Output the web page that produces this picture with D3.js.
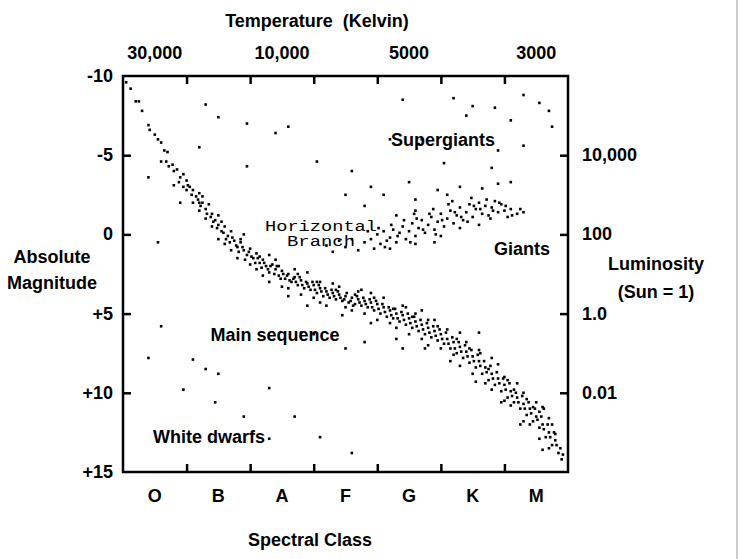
<!DOCTYPE html>
<html><head><meta charset="utf-8">
<script src="https://cdn.jsdelivr.net/npm/d3@7"></script>
<style>body{margin:0;background:#fff}text{font-family:"Liberation Sans",Arial,sans-serif;font-weight:bold;fill:#000}</style>
</head><body><svg id="c" width="741" height="559"></svg>
<script>
const classes=["O","B","A","F","G","K","M"];
const tempLabels=[{t:"30,000",x:0.5},{t:"10,000",x:2.5},{t:"5000",x:4.5},{t:"3000",x:6.5}];
const magTicks=[-10,-5,0,5,10,15];
const magLabels=["-10","-5","0","+5","+10","+15"];
const lumTicks=[-5,0,5,10];
const lumLabels=["10,000","100","1.0","0.01"];
const mainSeq=[[0.05,-9.6],[0.12,-9.2],[0.2,-8.4],[0.25,-8.4],[0.3,-7.8],[0.4,-6.9],[0.42,-6.6],[0.5,-6.3],[0.55,-6.0],[0.6,-5.8],[0.65,-5.3],[0.7,-5.2],[0.68,-4.6],[0.72,-4.3],[0.8,-4.0],[0.85,-4.1],[0.9,-3.6],[0.95,-3.8],[1.0,-3.4],[1.05,-3.0],[0.95,-3.0],[1.1,-2.8],[1.15,-2.4],[1.2,-2.6],[1.25,-2.0],[1.1,-2.0],[1.3,-1.6],[1.35,-1.9],[1.4,-1.3],[1.2,-1.5],[1.45,-0.9],[1.5,-1.2],[1.5,-0.6],[1.55,-0.2],[1.6,-0.5],[1.4,-0.5],[1.65,0.1],[1.7,-0.2],[1.75,0.4],[1.8,0.8],[1.85,0.5],[1.9,1.0],[1.95,1.3],[2.0,0.9],[2.05,1.5],[2.1,1.2],[2.15,1.8],[2.2,1.6],[2.25,2.0],[2.3,2.4],[2.35,1.9],[2.4,2.2],[2.45,2.6],[2.5,2.3],[2.55,2.8],[2.6,2.5],[2.65,3.0],[2.7,2.7],[2.75,3.2],[2.8,2.9],[2.85,3.4],[2.9,3.1],[2.95,3.5],[3.0,3.2],[3.05,3.7],[3.1,3.4],[3.15,3.9],[3.2,3.6],[3.25,4.0],[3.3,3.7],[3.35,4.1],[3.4,3.8],[3.45,4.2],[3.5,3.9],[3.55,4.3],[3.6,4.0],[3.65,4.4],[3.7,4.1],[3.75,4.5],[3.8,4.2],[3.85,4.6],[3.9,4.3],[3.95,4.8],[4.0,4.4],[4.05,5.0],[4.1,4.6],[4.15,5.2],[4.2,4.8],[4.25,5.3],[4.3,5.0],[4.35,5.5],[4.4,5.1],[4.45,5.7],[4.5,5.3],[4.55,5.9],[4.6,5.5],[4.65,6.1],[4.7,5.7],[4.75,6.3],[4.8,5.9],[4.85,6.5],[4.9,6.1],[4.95,6.7],[5.0,6.3],[5.05,6.9],[5.1,6.6],[5.15,7.2],[5.2,6.8],[5.25,7.5],[5.3,7.1],[5.35,7.8],[5.4,7.4],[5.45,8.1],[5.5,7.7],[5.55,8.4],[5.6,8.0],[5.65,8.8],[5.7,8.4],[5.75,9.2],[5.8,8.8],[5.85,9.5],[5.9,9.1],[5.95,9.9],[6.0,9.5],[6.05,10.3],[6.1,9.9],[6.15,10.6],[6.2,10.3],[6.25,11.0],[6.3,10.7],[6.35,11.4],[6.4,11.0],[6.45,11.8],[6.5,11.5],[6.55,12.2],[6.6,12.0],[6.65,12.8],[6.7,12.5],[6.75,13.3],[6.8,13.0],[6.85,13.8],
[1.3,-1.0],[1.6,0.6],[1.9,0.0],[2.1,2.2],[2.3,1.3],[2.6,3.4],[2.9,2.4],[3.1,4.3],[3.3,3.1],[3.6,4.8],[3.9,3.7],[4.2,5.6],[4.4,4.5],[4.7,6.6],[4.9,5.4],[5.2,7.6],[5.4,6.8],[5.7,9.4],[5.9,8.2],[6.1,10.8],[6.2,9.4],[6.4,12.0],[6.5,10.6],[6.7,13.5],[6.9,14.2],[6.6,13.6],[6.3,11.8],[6.0,10.5],[5.8,9.8],[5.5,8.8],[5.3,8.3],[5.0,7.2],[4.8,7.0],[4.5,6.3],[4.3,5.9],[4.0,5.4],[3.8,5.0],[3.5,4.6],[3.2,4.5],[3.0,4.0],[2.8,3.8],[2.5,3.3],[2.2,2.6],[2.0,1.9],[1.8,1.5],[1.7,1.0],[1.5,0.3],[1.2,-2.0],[1.0,-2.8],[0.9,-2.0],[0.8,-3.1],[0.6,-4.6],[3.7,3.6],[4.1,4.0],[4.6,5.0],[5.1,6.0],[5.6,7.3],[6.0,9.0],[6.3,10.0],[2.7,2.2],[2.4,1.6],[3.4,3.3],[4.8,5.4],[5.45,7.2],[5.75,8.5],[6.15,9.8],[6.45,10.9],[6.55,11.2],[6.75,12.0],[6.7,11.6],[6.6,10.9],[6.8,12.6]];
const mainSeq2=[[0.78,-4.4],[0.88,-3.3],[1.02,-3.1],[1.08,-2.5],[1.18,-2.2],[1.22,-1.8],[1.32,-1.3],[1.38,-1.1],[1.42,-0.8],[1.48,-0.4],[1.58,-0.1],[1.62,0.3],[1.68,0.5],[1.72,0.2],[1.78,0.7],[1.82,1.1],[1.88,0.8],[1.92,1.6],[1.98,1.1],[2.02,1.4],[2.08,1.8],[2.12,1.5],[2.18,2.1],[2.22,1.8],[2.28,2.2],[2.32,2.0],[2.38,2.5],[2.42,2.0],[2.48,2.8],[2.52,2.5],[2.58,2.6],[2.62,2.9],[2.68,2.8],[2.72,3.0],[2.78,2.7],[2.82,3.2],[2.88,3.0],[2.92,3.3],[2.98,3.0],[3.02,3.5],[3.08,3.2],[3.12,3.6],[3.18,3.4],[3.22,3.8],[3.28,3.5],[3.32,3.9],[3.38,3.6],[3.42,4.0],[3.48,4.1],[3.52,3.7],[3.58,4.2],[3.62,4.5],[3.68,3.9],[3.72,4.3],[3.78,4.0],[3.82,4.4],[3.88,4.1],[3.92,4.6],[3.98,4.2],[4.02,4.7],[4.08,4.4],[4.12,4.9],[4.18,4.6],[4.22,5.1],[4.28,4.7],[4.32,5.3],[4.38,4.9],[4.42,5.4],[4.48,5.0],[4.52,5.6],[4.58,5.2],[4.62,5.8],[4.68,5.4],[4.72,6.0],[4.78,5.6],[4.82,6.2],[4.88,5.8],[4.92,6.4],[4.98,6.0],[5.02,6.6],[5.08,6.2],[5.12,6.9],[5.18,6.5],[5.22,7.2],[5.28,6.8],[5.32,7.4],[5.38,7.0],[5.42,7.7],[5.48,7.3],[5.52,8.0],[5.58,7.6],[5.62,8.3],[5.68,8.0],[5.72,8.7],[5.78,8.3],[5.82,9.1],[5.88,8.7],[5.92,9.4],[5.98,9.1],[6.02,9.8],[6.08,9.4],[6.12,10.2],[6.18,10.0],[6.22,10.6],[6.28,10.2],[6.32,11.0],[6.38,10.6],[6.42,11.3],[6.48,11.0],[6.52,11.7],[6.58,11.5],[6.62,12.3],[6.68,12.0],[6.72,12.8],[6.78,12.5],[6.82,13.3],[6.88,13.5],[6.92,13.9],[6.62,11.0],[6.35,10.4],[6.05,9.2],[5.62,7.5],[5.25,6.6],[4.95,5.8],[4.55,5.2],[4.25,4.7],[3.95,4.0],[3.65,3.8],[3.35,3.5],[3.05,3.0],[2.75,2.5],[2.45,2.0],[2.15,1.4],[1.85,0.3],[1.55,-0.8],[1.25,-2.4],[3.45,5.1],[3.9,5.6],[4.3,6.6],[4.75,7.2],[5.15,8.0],[5.55,9.3],[5.95,10.6],[6.25,12.0],[6.55,12.9],[2.9,4.5],[2.6,3.9],[2.3,3.0],[4.7,4.8],[5.3,6.2],[5.8,7.8],[3.1,3.0],[3.75,3.5],[4.45,4.6]];
const giants=[[3.8,0.5],[3.9,0.3],[4.0,0.0],[4.05,0.6],[4.1,-0.2],[4.15,0.4],[4.2,0.2],[4.25,-0.3],[4.3,0.5],[4.35,-0.1],[4.4,-0.5],[4.45,0.3],[4.5,-0.2],[4.55,-0.7],[4.6,0.1],[4.65,-0.4],[4.7,-0.9],[4.75,-0.1],[4.8,-0.6],[4.85,-1.1],[4.9,-0.3],[4.95,-0.8],[5.0,-1.3],[5.05,-0.5],[5.1,-1.0],[5.15,-1.5],[5.2,-0.7],[5.25,-1.2],[5.3,-1.7],[5.35,-0.9],[5.4,-1.4],[5.45,-1.9],[5.5,-1.1],[5.55,-1.6],[5.6,-2.0],[5.65,-1.3],[5.7,-1.8],[5.75,-1.2],[5.8,-1.7],[5.85,-2.1],[5.9,-1.4],[5.95,-1.9],[6.0,-1.5],[6.05,-1.1],[6.1,-1.6],[6.2,-1.3],[6.3,-1.4],[4.2,0.9],[4.6,0.6],[5.0,0.1],[5.3,-0.4],[4.9,0.5],[5.6,-0.6],[3.6,0.3],[3.5,0.8],[3.4,0.4],[3.3,1.1],[3.2,0.7],[3.7,1.0],
[4.02,-0.4],[4.12,0.8],[4.22,-0.6],[4.32,0.1],[4.42,-0.9],[4.52,0.5],[4.62,-1.0],[4.72,-0.3],[4.82,-1.3],[4.92,0.0],[5.02,-0.9],[5.12,-1.9],[5.22,-1.4],[5.32,-1.1],[5.42,-0.8],[5.52,-1.8],[5.62,-1.6],[5.72,-2.2],[5.82,-1.5],[5.92,-2.0],[6.02,-1.8],[6.12,-1.2],[6.25,-1.6],[5.48,-2.3],[5.78,-1.0],[5.18,-2.1],[4.88,-1.6],[4.58,-1.3],[3.95,0.9],[3.85,-0.2]];
const supergiants=[[4.4,-8.5],[5.2,-8.6],[5.5,-8.1],[5.85,-8.0],[6.3,-8.8],[6.55,-8.3],[6.7,-7.8],[6.75,-6.8],[6.1,-7.2],[5.4,-7.5],[4.7,-6.0],[4.65,-5.7],[5.05,-4.5],[5.8,-4.2],[4.95,-2.8],[5.3,-3.0],[4.6,-2.2],[4.5,-3.3],[5.1,-2.5],[5.9,-3.2],[4.1,-2.5],[3.6,-4.0],[3.9,-3.0],[4.3,-1.2],[4.6,-1.5],[5.65,-2.9],[6.1,-3.3],[5.9,-5.3],[6.3,-5.6],[2.4,-6.4],[1.95,-7.0],[1.5,-7.4],[2.6,-6.8],[1.3,-8.2],[3.05,-4.6],[1.95,-4.3],[0.4,-3.6],[0.55,0.5],[1.2,-5.5],[4.2,-6.0],[3.5,-2.5],[3.8,-1.8]];
const dwarfs=[[0.6,5.8],[0.4,7.8],[1.1,7.9],[1.3,8.5],[1.5,8.8],[0.95,9.8],[1.45,10.6],[1.9,11.5],[2.3,12.9],[2.7,11.5],[3.1,12.8],[3.6,13.8],[2.3,9.7],[3.5,7.2],[2.8,6.2],[3.0,6.3],[3.8,6.8],[4.4,7.2],[5.6,6.2]];

const svg=d3.select("#c");
const x=d3.scaleLinear().domain([0,7]).range([123,568]);
const y=d3.scaleLinear().domain([-10,15]).range([76,472]);
const all=mainSeq.concat(mainSeq2,giants,supergiants,dwarfs);
svg.append("g").selectAll("rect").data(all).join("rect")
 .attr("x",d=>x(d[0])-1.3).attr("y",d=>y(d[1])-1.3).attr("width",2.6).attr("height",2.6).attr("fill","#000");
const tk=d3.range(1,7);
svg.append("g").attr("transform","translate(0,472)").call(d3.axisTop(x).tickValues(tk).tickSize(8).tickFormat("")).call(g=>g.select(".domain").remove());
svg.append("g").attr("transform","translate(0,76)").call(d3.axisBottom(x).tickValues(tk).tickSize(8).tickFormat("")).call(g=>g.select(".domain").remove());
svg.append("g").attr("transform","translate(123,0)").call(d3.axisRight(y).tickValues([-5,0,5,10]).tickSize(8).tickFormat("")).call(g=>g.select(".domain").remove());
svg.append("g").attr("transform","translate(568,0)").call(d3.axisLeft(y).tickValues([-5,0,5,10]).tickSize(8).tickFormat("")).call(g=>g.select(".domain").remove());
svg.selectAll(".tick line").attr("stroke","#000").attr("stroke-width",2.5);
svg.append("rect").attr("x",123).attr("y",76).attr("width",445).attr("height",396).attr("fill","none").attr("stroke","#000").attr("stroke-width",2.5);
svg.append("g").selectAll("text").data(classes).join("text").attr("x",(d,i)=>x(i+0.5)).attr("y",502).attr("text-anchor","middle").attr("font-size",18).text(d=>d);
svg.append("g").selectAll("text").data(tempLabels).join("text").attr("x",d=>x(d.x)).attr("y",59).attr("text-anchor","middle").attr("font-size",18).text(d=>d.t);
svg.append("g").selectAll("text").data(magTicks).join("text").attr("x",113).attr("y",d=>y(d)+6).attr("text-anchor","end").attr("font-size",18).text((d,i)=>magLabels[i]);
svg.append("g").selectAll("text").data(lumTicks).join("text").attr("x",582).attr("y",d=>y(d)+6).attr("font-size",18).text((d,i)=>lumLabels[i]);
const T=(t,xx,yy,a="middle",fs=18,ff)=>{const e=svg.append("text").attr("x",xx).attr("y",yy).attr("text-anchor",a).attr("font-size",fs).text(t);if(ff)e.style("font-family",ff);return e;};
T("Temperature  (Kelvin)",317,27).style("white-space","pre");
T("Spectral Class",310,546);
T("Absolute",52,263);T("Magnitude",52,289);
T("Luminosity",656,270);T("(Sun = 1)",656,298);
T("Supergiants",443,146);T("Giants",522,255);T("Main sequence",275,341);T("White dwarfs",209,443);
T("Horizontal",321,231,"middle",14,"'Liberation Mono',monospace").style("font-weight","normal").attr("textLength",112).attr("lengthAdjust","spacingAndGlyphs");
T("Branch",321,246,"middle",14,"'Liberation Mono',monospace").style("font-weight","normal").attr("textLength",68).attr("lengthAdjust","spacingAndGlyphs");
svg.append("line").attr("x1",737).attr("x2",737).attr("y1",0).attr("y2",559).attr("stroke","#ccc").attr("stroke-width",2);
</script></body></html>
